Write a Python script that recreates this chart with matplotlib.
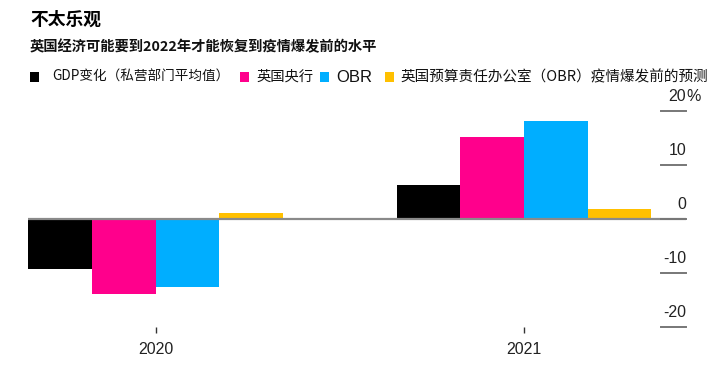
import matplotlib
matplotlib.use("Agg")
import matplotlib.pyplot as plt
from matplotlib.patches import Rectangle
import matplotlib.transforms as mtransforms
import numpy as np

plt.rcParams['font.family'] = ['Noto Sans CJK SC', 'DejaVu Sans']

years = [2020, 2021]
year_labels = ["2020", "2021"]
series_names = ["GDP变化（私营部门平均值）", "英国央行", "OBR", "英国预算责任办公室（OBR）疫情爆发前的预测"]
gdp_private = [-9.2, 6.3]
boe = [-13.9, 15.1]
obr = [-12.6, 18.1]
obr_pre = [1.2, 1.9]
colors = ["#000000", "#ff008c", "#00aeff", "#ffc000"]
yticks = [20, 10, 0, -10, -20]
ytick_labels = ["20", "10", "0", "-10", "-20"]

W, H = 720, 373
fig = plt.figure(figsize=(W / 100, H / 100), dpi=100)
ax = fig.add_axes([28 / W, 1 - 327 / H, (686 - 28) / W, (327 - 111) / H])

x = np.array(years, dtype=float)
bw = 0.1725
all_series = [gdp_private, boe, obr, obr_pre]
for i, (vals, c) in enumerate(zip(all_series, colors)):
    ax.bar(x + (i - 1.5) * bw, vals, width=bw, color=c, linewidth=0, zorder=2)

ax.set_xlim(2020 - 0.346, 2021 + 0.4396)
ax.set_ylim(-20, 20)

for s in ax.spines.values():
    s.set_visible(False)
ax.set_yticks([])
ax.set_xticks(x)
ax.set_xticklabels(year_labels, family=['Liberation Sans', 'DejaVu Sans'], fontsize=11.5, color="#222222")
ax.tick_params(axis='x', length=4, width=1, color="#333333", pad=7)

# zero line
ax.axhline(0, color="#8a8a8a", lw=1.6, zorder=3, xmax=1.0)

# right y tick marks and labels
trans = mtransforms.blended_transform_factory(ax.transAxes, ax.transData)
x0 = (661 - 28) / (686 - 28)
for v, lab in zip(yticks, ytick_labels):
    ax.plot([x0, 1.0], [v, v], transform=trans, color="#777777", lw=1.4, clip_on=False, zorder=4)
    ax.annotate(lab, xy=(1.0, v), xycoords=trans, xytext=(0, 7), textcoords='offset points',
                ha='right', va='baseline', fontsize=11.5, color="#222222",
                family=['Liberation Sans', 'DejaVu Sans'])
    if v == 20:
        ax.annotate("%", xy=(1.0, v), xycoords=trans, xytext=(0, 7), textcoords='offset points',
                    ha='left', va='baseline', fontsize=11.5, color="#222222",
                    family=['Liberation Sans', 'DejaVu Sans'])

# titles
fig.text(30 / W, 1 - 20 / H, "不太乐观", fontsize=12.8, fontweight='bold', ha='left', va='center', color="#000000")
fig.text(30 / W, 1 - 47 / H, "英国经济可能要到2022年才能恢复到疫情爆发前的水平", fontsize=10.3,
         fontweight='bold', ha='left', va='center', color="#111111")

# legend
leg_y = 77
items = [(30, 52, series_names[0], ['Noto Sans CJK SC'], 9.8),
         (240, 256, series_names[1], ['Noto Sans CJK SC'], 10.3),
         (320, 336, series_names[2], ['Liberation Sans'], 12),
         (385, 400, series_names[3], ['Noto Sans CJK SC'], 10.5)]
for (sx, tx, name, fam, fs), c in zip(items, colors):
    fig.add_artist(Rectangle((sx / W, 1 - (leg_y + 5) / H), 9 / W, 10 / H,
                             transform=fig.transFigure, facecolor=c, edgecolor='none'))
    fig.text(tx / W, 1 - leg_y / H, name, fontsize=fs, ha='left', va='center',
             family=fam + ['DejaVu Sans'], color="#111111")

fig.savefig("out.png", dpi=100, facecolor="white")
